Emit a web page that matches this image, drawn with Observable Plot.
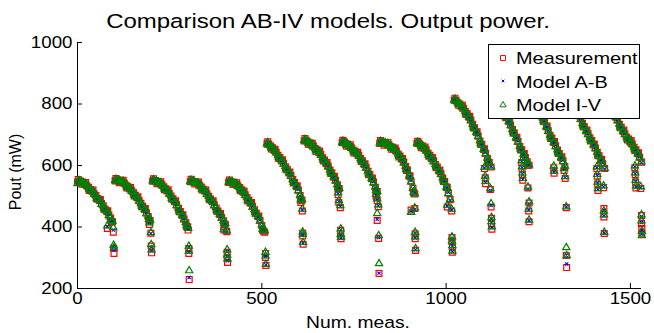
<!DOCTYPE html>
<html><head><meta charset="utf-8">
<script src="https://cdn.jsdelivr.net/npm/d3@7"></script>
<script src="https://cdn.jsdelivr.net/npm/@observablehq/plot@0.6"></script>
<style>
body{margin:0;background:#fff;}
#wrap{position:relative;width:654px;height:333px;overflow:hidden;background:#fff;}
#overlay{position:absolute;left:0;top:0;pointer-events:none;}
#overlay text{font-family:"Liberation Sans",Arial,sans-serif;fill:#000;}
</style></head><body>
<div id="wrap"><div id="chart"></div>
<svg id="overlay" width="654" height="333"></svg>
</div>
<script>
// ---- data ----
const xTicks = [0, 500, 1000, 1500];
const yTicks = [200, 400, 600, 800, 1000];
const seriesNames = ["Measurement", "Model A-B", "Model I-V"];

const measNum = [
  0,5,10,15,20,25,30,35,40,45,50,55,60,65,70,75,80,85,90,95,81,97,98,99,
  102,107,112,117,122,127,132,137,142,147,152,157,162,167,172,177,182,187,192,197,195,199,200,201,
  204,209,214,219,224,229,234,239,244,249,254,259,264,269,274,279,284,289,294,299,300,302,302,303,
  306,311,316,321,326,331,336,341,346,351,356,361,366,371,376,381,386,391,396,401,397,405,406,406,407,
  410,415,420,425,430,435,440,445,450,455,460,465,470,475,480,485,490,495,500,505,508,510,510,511,
  514,519,524,529,534,539,544,549,554,559,564,569,574,579,584,589,594,599,604,609,606,610,611,611,612,
  615,620,625,630,635,640,645,650,655,660,665,670,675,680,685,690,695,700,705,710,707,709,713,714,714,715,
  718,723,728,733,738,743,748,753,758,763,768,773,778,783,788,793,798,803,808,813,810,813,816,813,817,818,
  820,825,830,835,840,845,850,855,860,865,870,875,880,885,890,895,900,905,910,915,905,915,916,916,917,
  921,926,931,936,941,946,951,956,961,966,971,976,981,986,991,996,1001,1006,1011,1003,1015,1016,1016,1017,1017,
  1022,1027,1032,1037,1042,1047,1052,1057,1062,1067,1072,1077,1082,1087,1092,1097,1102,1107,1112,1117,1122,1104,1106,1107,1120,1122,1123,1123,1124,
  1130,1135,1140,1145,1150,1155,1160,1165,1170,1175,1180,1185,1190,1195,1200,1205,1210,1215,1220,1225,1205,1206,1207,1208,1222,1225,1224,1225,
  1232,1237,1242,1247,1252,1257,1262,1267,1272,1277,1282,1287,1292,1297,1302,1307,1312,1317,1322,1292,1293,1320,1323,1326,1326,1327,
  1340,1345,1350,1355,1360,1365,1370,1375,1380,1385,1390,1395,1400,1405,1410,1415,1420,1425,1430,1409,1410,1411,1412,1427,1428,1428,1429,
  1440,1445,1450,1455,1460,1465,1470,1475,1480,1485,1490,1495,1500,1505,1510,1515,1520,1525,1530,1512,1513,1514,1515,1528,1530,1530,1531,1531,
  2,12,22,32,42,52,62,72,82,92,
  104,114,124,134,144,154,164,174,184,194,
  206,216,226,236,246,256,266,276,286,296,
  308,318,328,338,348,358,368,378,388,398,
  412,422,432,442,452,462,472,482,492,502,
  516,526,536,546,556,566,576,586,596,606,
  617,627,637,647,657,667,677,687,697,707,
  720,730,740,750,760,770,780,790,800,810,
  822,832,842,852,862,872,882,892,902,912,
  923,933,943,953,963,973,983,993,1003,
  1024,1034,1044,1054,1064,1074,1084,1094,1104,1114,
  1132,1142,1152,1162,1172,1182,1192,1202,1212,1222,
  1234,1244,1254,1264,1274,1284,1294,1304,1314,
  1342,1352,1362,1372,1382,1392,1402,1412,1422,
  1442,1452,1462,1472,1482,1492,1502,1512,1522
];

const measurement = [
  545,549,547,544,540,534,529,522,516,508,502,493,486,476,469,458,450,439,429,417,395,383,330,314,
  550,553,552,549,546,542,536,531,524,518,511,503,495,486,477,467,457,446,434,421,408,380,338,316,
  549,551,549,546,542,537,531,524,517,509,501,492,482,472,461,450,438,426,414,401,390,330,314,229,
  547,549,548,545,541,536,530,523,516,508,500,491,482,472,462,452,441,431,420,409,390,385,318,300,285,
  545,547,546,543,539,534,528,521,513,505,496,487,477,467,456,445,434,421,405,386,383,314,301,275,
  670,669,663,658,649,643,633,626,615,607,596,588,576,567,554,545,532,520,502,487,480,452,380,371,344,
  680,682,676,673,667,663,655,651,642,636,625,618,606,598,585,576,562,552,537,525,505,480,463,389,370,362,
  674,677,671,669,662,658,650,646,638,633,623,615,603,594,581,571,557,546,529,515,500,486,466,421,363,249,
  672,676,673,673,668,667,661,659,652,647,637,631,620,611,597,585,566,549,526,507,455,460,378,362,324,
  672,673,666,663,655,650,640,633,622,615,603,595,582,573,559,548,529,511,489,465,452,366,352,336,318,
  812,811,804,800,791,786,776,769,757,748,734,723,708,696,680,668,652,640,623,610,595,590,560,541,522,465,428,410,393,
  806,805,798,794,785,778,766,757,743,732,717,706,690,678,662,651,636,626,612,601,610,590,570,552,527,478,452,417,
  802,800,793,788,777,769,755,743,726,713,698,689,675,664,650,639,625,615,597,593,575,584,558,463,307,268,
  795,791,781,774,762,752,737,726,712,703,690,681,667,657,643,632,617,606,590,590,565,540,519,528,460,433,379,
  792,787,777,769,757,748,734,724,711,703,692,686,676,670,659,651,638,627,611,593,570,546,527,525,437,411,395,380,
  554,539,545,519,520,491,489,458,453,417,
  558,544,552,527,528,501,498,466,460,422,
  557,541,547,521,521,490,485,450,440,402,
  555,540,546,520,520,489,485,451,444,409,
  553,538,544,518,517,485,480,445,436,390,
  677,654,653,623,619,586,579,543,534,489,
  688,668,672,646,647,615,610,574,565,525,
  682,663,667,641,643,613,606,570,559,516,
  681,666,675,653,657,628,623,585,566,511,
  679,658,660,630,626,593,585,548,529,
  819,796,796,766,760,722,710,668,654,611,
  813,790,789,755,746,706,692,651,639,601,
  808,784,781,743,728,688,678,639,628,
  800,771,765,726,715,680,670,632,620,
  797,767,760,723,715,683,681,649,641
];

const modelAB = [
  543,547,549,541,538,536,527,524,513,510,499,495,483,478,466,460,447,441,426,420,401,390,336,326,
  548,551,554,547,545,544,534,533,522,519,509,505,493,488,475,469,455,448,432,425,412,379,335,322,
  547,552,551,544,541,539,529,526,515,510,499,494,480,474,459,452,436,428,412,404,393,334,318,236,
  545,550,546,546,539,537,528,525,514,509,498,493,480,474,460,454,439,433,418,412,388,383,320,303,290,
  543,548,544,544,537,535,526,523,511,506,494,489,475,469,454,447,432,423,403,389,385,310,304,277,
  668,671,661,660,647,645,631,628,613,608,594,590,574,569,552,547,530,522,500,490,483,455,378,373,347,
  678,683,678,671,666,664,653,652,640,637,623,620,604,600,583,578,560,554,535,528,508,483,466,391,372,364,
  672,678,673,667,661,659,648,647,636,634,621,617,601,596,579,573,555,548,527,518,503,489,469,425,366,250,
  670,677,675,671,667,668,659,660,650,648,635,633,618,613,595,587,564,551,524,510,452,457,380,364,326,
  670,674,668,661,654,651,638,634,620,616,601,597,580,575,557,550,527,513,487,468,455,363,349,338,320,
  810,812,806,798,790,787,774,770,755,749,732,725,706,698,678,670,650,642,621,612,597,592,563,545,519,470,426,414,398,
  804,806,800,792,784,779,764,758,741,733,715,708,688,680,660,653,634,628,610,604,613,593,573,555,524,476,455,420,
  800,801,795,786,776,770,753,744,724,714,696,691,673,666,648,641,623,617,595,590,578,587,561,466,308,280,
  793,792,783,772,761,753,735,727,710,704,688,683,665,659,641,634,615,608,588,593,568,543,522,531,455,436,381,
  790,788,779,767,756,749,732,725,709,704,690,688,674,672,657,653,636,629,609,596,573,549,530,528,434,415,390,377,
  552,541,543,521,518,493,487,460,451,419,
  556,546,550,529,526,503,496,468,458,424,
  555,543,545,523,519,492,483,452,438,404,
  553,542,544,522,518,491,483,453,442,411,
  551,540,542,520,515,487,478,447,434,392,
  675,656,651,625,617,588,577,545,532,491,
  686,670,670,648,645,617,608,576,563,527,
  680,665,665,643,641,615,604,572,557,518,
  679,668,673,655,655,630,621,587,564,513,
  677,660,658,632,624,595,583,550,527,
  817,798,794,768,758,724,708,670,652,613,
  811,792,787,757,744,708,690,653,637,603,
  806,786,779,745,726,690,676,641,626,
  798,773,763,728,713,682,668,634,618,
  795,769,758,725,713,685,679,651,639
];

const modelIV = [
  541,550,546,546,537,535,530,520,515,507,503,491,487,474,470,456,451,437,431,419,404,398,341,333,
  551,550,553,548,547,541,537,529,525,516,512,501,496,484,478,465,458,444,436,423,414,382,343,326,
  550,549,548,547,543,535,532,522,518,507,502,490,483,470,462,448,439,424,415,403,396,338,322,258,
  548,547,549,543,542,534,531,521,517,506,501,489,483,470,463,450,442,429,421,411,393,388,326,309,296,
  546,545,547,541,540,532,529,519,514,503,497,485,478,465,457,443,435,419,407,391,388,318,306,279,
  671,667,664,656,650,641,634,624,616,605,597,586,577,565,555,543,533,518,503,489,486,458,384,376,350,
  681,680,677,674,668,661,656,649,643,634,626,616,607,596,586,574,563,550,538,526,511,486,470,394,376,367,
  675,675,672,670,663,656,651,644,639,631,624,613,604,592,582,569,558,544,530,516,506,492,472,444,372,281,
  673,674,674,674,669,665,662,657,653,645,638,629,621,609,598,583,567,547,527,508,448,462,383,368,330,
  673,671,667,664,656,648,641,631,623,613,604,593,583,571,560,546,530,509,490,471,458,368,354,340,322,
  813,809,805,801,792,784,777,767,758,746,735,721,709,694,681,666,653,638,624,608,596,595,566,549,525,476,431,418,401,
  807,803,799,795,786,776,767,755,744,730,718,704,691,676,663,649,637,624,613,602,616,596,576,558,530,482,458,423,
  803,798,794,789,778,767,756,741,727,711,699,687,676,662,651,637,626,613,598,598,582,590,564,466,333,307,
  796,789,782,775,763,750,738,724,713,701,691,679,668,655,644,630,618,604,591,596,571,546,525,534,452,440,383,
  793,785,778,770,758,746,735,722,712,701,693,684,677,668,660,649,639,625,612,599,576,552,533,531,440,420,386,372,
  551,542,542,522,517,494,486,461,450,420,
  555,547,549,530,525,504,495,469,457,425,
  554,544,544,524,518,493,482,453,437,405,
  552,543,543,523,517,492,482,454,441,412,
  550,541,541,521,514,488,477,448,433,393,
  674,657,650,626,616,589,576,546,531,492,
  685,671,669,649,644,618,607,577,562,528,
  679,666,664,644,640,616,603,573,556,519,
  678,669,672,656,654,631,620,588,563,514,
  676,661,657,633,623,596,582,551,526,
  816,799,793,769,757,725,707,671,651,614,
  810,793,786,758,743,709,689,654,636,604,
  805,787,778,746,725,691,675,642,625,
  797,774,762,729,712,683,667,635,617,
  794,770,757,726,712,686,678,652,638
];

// ---- chart ----
const rows = measNum.map((x, i) => ({x, m: measurement[i], ab: modelAB[i], iv: modelIV[i]}));
const SX = 1.17; // horizontal stretch of the reference's lettering

const chart = Plot.plot({
  width: 654, height: 333,
  marginLeft: 77, marginRight: 13, marginTop: 42, marginBottom: 45,
  style: {fontFamily: "Liberation Sans, Arial, sans-serif", fontSize: "16px", color: "#000", background: "#fff", overflow: "visible"},
  x: {domain: [0, 1530], label: null},
  y: {domain: [200, 1000], label: null},
  marks: [
    Plot.axisX({ticks: xTicks, tickSize: -5, tickPadding: 9, tickFormat: d => String(d), label: null}),
    Plot.axisY({ticks: yTicks, tickSize: -5, tickPadding: 10, tickFormat: d => String(d), label: null}),
    Plot.ruleX([0], {stroke: "#000"}),
    Plot.ruleY([200], {stroke: "#000"}),
    Plot.dot(rows, {x: "x", y: "m", symbol: "square", r: 3.3, stroke: "#ff0000", fill: "none", strokeWidth: 1.2}),
    Plot.dot(rows, {x: "x", y: "ab", symbol: "times", r: 1.6, stroke: "#0000ff", strokeWidth: 1.1}),
    Plot.dot(rows, {x: "x", y: "iv", symbol: "triangle", r: 2.7, stroke: "#008000", fill: "none", strokeWidth: 1.2})
  ]
});
document.getElementById("chart").appendChild(chart);

chart.querySelectorAll('g[aria-label$="tick label"] text').forEach(t => {
  const tr = t.getAttribute("transform") || "";
  t.setAttribute("transform", tr + ` scale(${SX},1)`);
});

// ---- overlay: title, axis labels, legend ----
const ov = d3.select("#overlay");
ov.append("text").attr("transform", `translate(328,28) scale(${SX},1)`)
  .attr("text-anchor", "middle").style("font-size", "20.5px")
  .text("Comparison AB-IV models. Output power.");
ov.append("text").attr("transform", `translate(358,328) scale(${SX},1)`)
  .attr("text-anchor", "middle").style("font-size", "16.5px").text("Num. meas.");
ov.append("text").attr("transform", "translate(21,172) rotate(-90)")
  .attr("text-anchor", "middle").style("font-size", "16px").text("Pout (mW)");

const lg = ov.append("g").attr("transform", "translate(488,44)");
lg.append("rect").attr("x", 0.5).attr("y", 0.5).attr("width", 151).attr("height", 74)
  .attr("fill", "#fff").attr("stroke", "#000").attr("stroke-width", 1);
const sym = [d3.symbolSquare, d3.symbolTimes, d3.symbolTriangle];
const col = ["#ff0000", "#0000ff", "#008000"];
const rr = [2.8, 1.3, 2.3];
const rowY = [14, 37, 61];
const base = [20.3, 44.3, 67];
seriesNames.forEach((name, i) => {
  lg.append("path").attr("transform", `translate(15,${rowY[i]})`)
    .attr("d", d3.symbol(sym[i], Math.PI * rr[i] * rr[i])())
    .attr("fill", "none").attr("stroke", col[i]).attr("stroke-width", 1);
  lg.append("text").attr("transform", `translate(28,${base[i]}) scale(${SX},1)`)
    .style("font-size", "17px").text(name);
});
</script>
</body></html>
